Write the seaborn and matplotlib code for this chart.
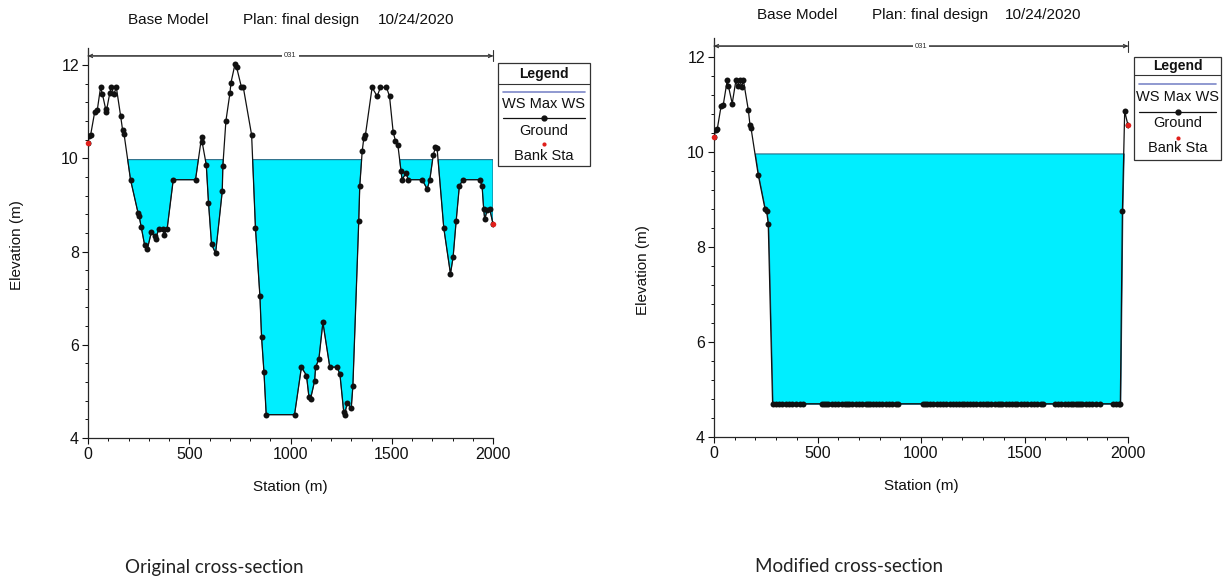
import numpy as np
import pandas as pd
import matplotlib
matplotlib.use("Agg")
import matplotlib.pyplot as plt
import seaborn as sns
from matplotlib.patches import Rectangle
from matplotlib.lines import Line2D

# ---------------- data ----------------
orig_station = [0, 5, 13, 33, 46, 62, 71, 87, 90, 108, 115, 128, 140, 161, 171, 178,
                210, 247, 252, 263, 280, 293, 313, 329, 334, 350, 372, 375, 391, 421,
                531, 561, 564, 584, 595, 610, 630, 663, 666, 681, 701, 706, 726, 734,
                758, 767, 808, 827, 849, 857, 869, 880, 1020, 1054, 1079, 1091, 1099,
                1119, 1124, 1140, 1160, 1194, 1230, 1244, 1263, 1267, 1280, 1300, 1308,
                1337, 1342, 1354, 1362, 1370, 1403, 1428, 1444, 1474, 1489, 1507, 1518,
                1530, 1546, 1551, 1571, 1581, 1650, 1675, 1688, 1705, 1716, 1724, 1757,
                1790, 1803, 1818, 1834, 1852, 1934, 1946, 1954, 1959, 1971, 1984, 2000]
orig_elev = [10.33, 10.47, 10.50, 10.99, 11.04, 11.52, 11.38, 11.06, 10.99, 11.41, 11.52,
             11.38, 11.52, 10.91, 10.60, 10.52, 9.54, 8.83, 8.77, 8.52, 8.13, 8.05, 8.42,
             8.34, 8.27, 8.49, 8.49, 8.36, 8.49, 9.54, 9.54, 10.46, 10.34, 9.86, 9.05,
             8.16, 7.96, 9.29, 9.84, 10.80, 11.40, 11.62, 12.02, 11.95, 11.52, 11.52,
             10.50, 8.50, 7.04, 6.17, 5.41, 4.50, 4.50, 5.52, 5.34, 4.88, 4.84, 5.22,
             5.52, 5.69, 6.48, 5.52, 5.52, 5.37, 4.55, 4.50, 4.75, 4.64, 5.11, 8.65,
             9.40, 10.15, 10.43, 10.50, 11.52, 11.33, 11.52, 11.52, 11.33, 10.56, 10.38,
             10.29, 9.72, 9.54, 9.69, 9.54, 9.54, 9.34, 9.54, 10.07, 10.24, 10.21, 8.50,
             7.52, 7.88, 8.65, 9.41, 9.54, 9.54, 9.41, 8.91, 8.69, 8.88, 8.91, 8.59]
orig_bank_station = [0, 2000]
orig_bank_elev = [10.33, 8.59]
orig_ws = 9.97

mod_left_station = [0, 8, 16, 34, 45, 64, 69, 88, 106, 114, 125, 134, 142, 166, 174,
                    179, 214, 246, 254, 262]
mod_left_elev = [10.32, 10.46, 10.49, 10.96, 11.00, 11.51, 11.40, 11.02, 11.51, 11.38,
                 11.51, 11.37, 11.51, 10.88, 10.56, 10.50, 9.51, 8.81, 8.76, 8.49]
mod_bottom_station = [283, 298, 314, 330, 346, 362, 378, 394, 415, 431, 520, 532, 541,
                      552, 568, 584, 600, 616, 632, 644, 652, 668, 684, 700, 716, 732,
                      745, 753, 769, 785, 798, 814, 830, 846, 862, 878, 890, 1010, 1020,
                      1031, 1043, 1059, 1075, 1091, 1107, 1123, 1139, 1155, 1171, 1184,
                      1196, 1208, 1220, 1236, 1252, 1268, 1284, 1300, 1316, 1324, 1340,
                      1356, 1370, 1381, 1393, 1409, 1425, 1441, 1456, 1466, 1482, 1498,
                      1514, 1530, 1546, 1562, 1578, 1590, 1646, 1662, 1678, 1694, 1710,
                      1725, 1735, 1747, 1757, 1767, 1780, 1796, 1812, 1828, 1844, 1863,
                      1928, 1944, 1958, 1963]
mod_bottom_elev = 4.70
mod_right_station = [1973, 1984, 2000]
mod_right_elev = [8.76, 10.86, 10.56]
mod_bank_station = [0, 2000]
mod_bank_elev = [10.32, 10.56]
mod_ws = 9.97

reach_label = "031"
title_parts = ["Base Model", "Plan: final design", "10/24/2020"]
captions = ["Original cross-section", "Modified cross-section"]
legend_items = ["WS Max WS", "Ground", "Bank Sta"]

# ---------------- style ----------------
sns.set_style("ticks")
plt.rcParams["font.family"] = ["Liberation Sans", "DejaVu Sans"]
plt.rcParams["axes.linewidth"] = 0.9

W, H = 1223, 580
fig = plt.figure(figsize=(W / 100, H / 100), dpi=100)


def rect(x0, y0, x1, y1):
    return [x0 / W, 1 - y1 / H, (x1 - x0) / W, (y1 - y0) / H]


WATER = "#00EEFF"
WS_EDGE = "#1d5a78"
GROUND = "#111111"
BANK = "#e0201c"
TXT = "#111111"


def draw_xs(ax, df, bank_df, ws, ytop):
    x = df["Station"].to_numpy()
    g = df["Elevation"].to_numpy()
    ax.fill_between(x, g, ws, where=g < ws, interpolate=True, facecolor=WATER,
                    edgecolor=WS_EDGE, linewidth=0.7, zorder=1)
    sns.lineplot(data=df, x="Station", y="Elevation", ax=ax, color=GROUND,
                 linewidth=0.9, marker="o", markersize=4.3, markeredgewidth=0,
                 markerfacecolor=GROUND, estimator=None, sort=False, zorder=3)
    sns.scatterplot(data=bank_df, x="Station", y="Elevation", ax=ax, color=BANK,
                    s=16, linewidth=0, zorder=4, clip_on=False)
    ax.set_xlim(0, 2000)
    ax.set_ylim(4, ytop)
    ax.set_xticks([0, 500, 1000, 1500, 2000])
    ax.set_xticks(np.arange(0, 2001, 100), minor=True)
    ax.set_yticks([4, 6, 8, 10, 12])
    ax.set_yticks(np.arange(4, 12.01, 0.4), minor=True)
    ax.tick_params(which="major", length=4.5, width=0.8, labelsize=11.5, pad=2,
                   direction="out", colors=TXT)
    ax.tick_params(which="minor", length=2.5, width=0.7, direction="out",
                   colors=TXT)
    ax.set_xlabel("")
    ax.set_ylabel("")
    sns.despine(ax=ax)
    yarr = ytop - 0.17
    ax.annotate("", xy=(0, yarr), xytext=(2000, yarr), xycoords="data",
                arrowprops=dict(arrowstyle="<->", lw=0.8, color="#333333",
                                mutation_scale=6, shrinkA=0, shrinkB=0),
                annotation_clip=False)
    ax.annotate("", xy=(0, yarr), xytext=(2000, yarr), xycoords="data",
                arrowprops=dict(arrowstyle="|-|, widthA=0.5, widthB=0.5", lw=0.8,
                                color="#333333", mutation_scale=8, shrinkA=0,
                                shrinkB=0),
                annotation_clip=False)
    ax.text(1000, yarr, reach_label, ha="center", va="center", fontsize=5.5,
            color="#333333", bbox=dict(facecolor="white", edgecolor="none", pad=1.5),
            zorder=5)


def draw_legend(x0, y0, x1, y1, ys):
    lax = fig.add_axes(rect(x0, y0, x1, y1))
    w, h = x1 - x0, y1 - y0
    lax.set_xlim(0, w)
    lax.set_ylim(h, 0)
    lax.axis("off")
    lax.add_patch(Rectangle((0, 0), w, h, facecolor="white", edgecolor="#333333",
                            linewidth=0.9, clip_on=False))
    lax.add_line(Line2D([0, w], [ys["sep"], ys["sep"]], color="#333333", lw=0.8))
    lax.text(w / 2, ys["title"], "Legend", ha="center", va="center", fontsize=10,
             fontweight="bold", color=TXT)
    lax.add_line(Line2D([5, w - 5], [ys["ws"], ys["ws"]], color="#7d88c8", lw=1.2))
    lax.text(w / 2, ys["ws_t"], legend_items[0], ha="center", va="center",
             fontsize=10.5, color=TXT)
    lax.add_line(Line2D([5, w - 5], [ys["g"], ys["g"]], color=GROUND, lw=0.9))
    lax.plot([w / 2], [ys["g"]], marker="o", ms=3.5, color=GROUND)
    lax.text(w / 2, ys["g_t"], legend_items[1], ha="center", va="center",
             fontsize=10.5, color=TXT)
    lax.plot([w / 2], [ys["b"]], marker="o", ms=3, color=BANK, mew=0)
    lax.text(w / 2, ys["b_t"], legend_items[2], ha="center", va="center",
             fontsize=10.5, color=TXT)


# ---------------- left panel ----------------
df_o = pd.DataFrame({"Station": orig_station, "Elevation": orig_elev})
bank_o = pd.DataFrame({"Station": orig_bank_station, "Elevation": orig_bank_elev})
ax1 = fig.add_axes(rect(88, 48, 493, 438))
draw_xs(ax1, df_o, bank_o, orig_ws, 12.365)

# ---------------- right panel ----------------
mod_station = mod_left_station + mod_bottom_station + mod_right_station
mod_elev = (mod_left_elev + [mod_bottom_elev] * len(mod_bottom_station)
            + mod_right_elev)
df_m = pd.DataFrame({"Station": mod_station, "Elevation": mod_elev})
bank_m = pd.DataFrame({"Station": mod_bank_station, "Elevation": mod_bank_elev})
ax2 = fig.add_axes(rect(714, 38, 1128, 437))
draw_xs(ax2, df_m, bank_m, mod_ws, 12.40)

# ---------------- legends ----------------
draw_legend(498, 63, 590, 166, dict(title=11, sep=21, ws=29, ws_t=41, g=55, g_t=68,
                                    b=81, b_t=93))
draw_legend(1134, 57, 1221, 160, dict(title=9, sep=18, ws=27, ws_t=40, g=55, g_t=66,
                                      b=81, b_t=91))

# ---------------- texts ----------------
def ftext(x, y, s, **kw):
    fig.text(x / W, 1 - y / H, s, **kw)


for (xs, y) in [((128, 243, 378), 20), ((757, 872, 1005), 15)]:
    for xx, part in zip(xs, title_parts):
        ftext(xx, y, part, ha="left", va="center", fontsize=11, color=TXT)

ftext(17, 245, "Elevation (m)", rotation=90, ha="center", va="center", fontsize=11,
      color=TXT)
ftext(643, 270, "Elevation (m)", rotation=90, ha="center", va="center", fontsize=11,
      color=TXT)
ftext(290, 487, "Station (m)", ha="center", va="center", fontsize=11, color=TXT)
ftext(921, 486, "Station (m)", ha="center", va="center", fontsize=11, color=TXT)

ftext(125, 567, captions[0], ha="left", va="center", fontsize=13.5,
      family=["Lato", "DejaVu Sans"], color="#222222")
ftext(755, 567, captions[1], ha="left", va="center", fontsize=13.5,
      family=["Lato", "DejaVu Sans"], color="#222222")

fig.savefig("out.png", dpi=100)
